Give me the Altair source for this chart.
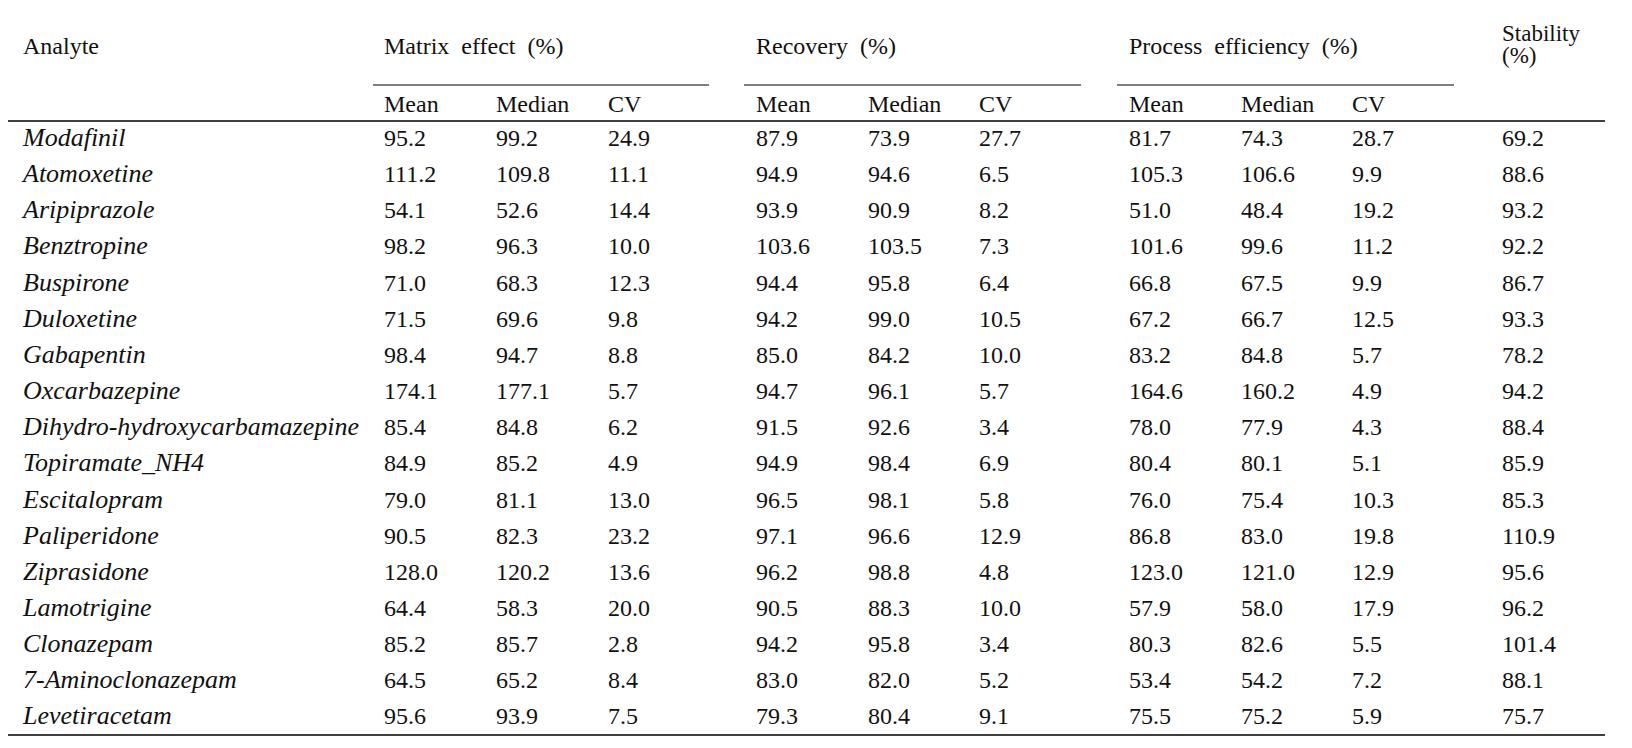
import altair as alt
import pandas as pd

# ---------------- data ----------------
analytes = [
    "Modafinil", "Atomoxetine", "Aripiprazole", "Benztropine", "Buspirone",
    "Duloxetine", "Gabapentin", "Oxcarbazepine", "Dihydro-hydroxycarbamazepine",
    "Topiramate_NH4", "Escitalopram", "Paliperidone", "Ziprasidone",
    "Lamotrigine", "Clonazepam", "7-Aminoclonazepam", "Levetiracetam",
]
me_mean = [95.2, 111.2, 54.1, 98.2, 71.0, 71.5, 98.4, 174.1, 85.4, 84.9, 79.0, 90.5, 128.0, 64.4, 85.2, 64.5, 95.6]
me_median = [99.2, 109.8, 52.6, 96.3, 68.3, 69.6, 94.7, 177.1, 84.8, 85.2, 81.1, 82.3, 120.2, 58.3, 85.7, 65.2, 93.9]
me_cv = [24.9, 11.1, 14.4, 10.0, 12.3, 9.8, 8.8, 5.7, 6.2, 4.9, 13.0, 23.2, 13.6, 20.0, 2.8, 8.4, 7.5]
rec_mean = [87.9, 94.9, 93.9, 103.6, 94.4, 94.2, 85.0, 94.7, 91.5, 94.9, 96.5, 97.1, 96.2, 90.5, 94.2, 83.0, 79.3]
rec_median = [73.9, 94.6, 90.9, 103.5, 95.8, 99.0, 84.2, 96.1, 92.6, 98.4, 98.1, 96.6, 98.8, 88.3, 95.8, 82.0, 80.4]
rec_cv = [27.7, 6.5, 8.2, 7.3, 6.4, 10.5, 10.0, 5.7, 3.4, 6.9, 5.8, 12.9, 4.8, 10.0, 3.4, 5.2, 9.1]
pe_mean = [81.7, 105.3, 51.0, 101.6, 66.8, 67.2, 83.2, 164.6, 78.0, 80.4, 76.0, 86.8, 123.0, 57.9, 80.3, 53.4, 75.5]
pe_median = [74.3, 106.6, 48.4, 99.6, 67.5, 66.7, 84.8, 160.2, 77.9, 80.1, 75.4, 83.0, 121.0, 58.0, 82.6, 54.2, 75.2]
pe_cv = [28.7, 9.9, 19.2, 11.2, 9.9, 12.5, 5.7, 4.9, 4.3, 5.1, 10.3, 19.8, 12.9, 17.9, 5.5, 7.2, 5.9]
stability = [69.2, 88.6, 93.2, 92.2, 86.7, 93.3, 78.2, 94.2, 88.4, 85.9, 85.3, 110.9, 95.6, 96.2, 101.4, 88.1, 75.7]

group_titles = ["Matrix\u2002effect\u2002(%)", "Recovery\u2002(%)", "Process\u2002efficiency\u2002(%)"]
sub_titles = ["Mean", "Median", "CV"]

# ---------------- layout ----------------
W, H = 1610, 730
X0, Y0 = 8, 8
FONT = "'Liberation Serif', 'Times New Roman', 'DejaVu Serif', serif"
name_x = 23
group_x = [[384, 496, 608], [756, 868, 979], [1129, 1241, 1352]]
stab_x = 1502
group_line = [(373, 709), (744, 1081), (1117, 1454)]
row_top, row_step = 146, 36.15
full_line = (8, 1605)
ys_full = [7, 121, 735]
y_group_line = 85
y_head, y_sub = 54, 112

xs = alt.Scale(domain=[X0, X0 + W], nice=False, zero=False)
ys = alt.Scale(domain=[Y0, Y0 + H], nice=False, zero=False, reverse=True)

# body cells
value_cols = [me_mean, me_median, me_cv, rec_mean, rec_median, rec_cv,
              pe_mean, pe_median, pe_cv, stability]
col_x = [x for g in group_x for x in g] + [stab_x]
body = []
names = []
for i, a in enumerate(analytes):
    y = row_top + i * row_step
    names.append({"x": name_x, "y": y, "t": a})
    for cx, vals in zip(col_x, value_cols):
        body.append({"x": cx, "y": y, "t": f"{vals[i]:.1f}"})

head = [{"x": name_x, "y": y_head, "t": "Analyte"}]
for gx, gt in zip(group_x, group_titles):
    head.append({"x": gx[0], "y": y_head, "t": gt})
    for sx, st in zip(gx, sub_titles):
        head.append({"x": sx, "y": y_sub, "t": st})
stab_head = [{"x": stab_x, "y": 41, "t": "Stability"},
             {"x": stab_x, "y": 63, "t": "(%)"}]

thick = pd.DataFrame([{"x": full_line[0], "x2": full_line[1], "y": y} for y in ys_full])
thin = pd.DataFrame([{"x": a, "x2": b, "y": y_group_line} for a, b in group_line])


def txt(df, **kw):
    return alt.Chart(pd.DataFrame(df)).mark_text(
        align="left", baseline="alphabetic", font=FONT, color="#111", **kw
    ).encode(
        x=alt.X("x:Q", scale=xs, axis=None),
        y=alt.Y("y:Q", scale=ys, axis=None),
        text="t:N",
    )


def rules(df, sw):
    return alt.Chart(df).mark_rule(color="#000", strokeWidth=sw).encode(
        x=alt.X("x:Q", scale=xs, axis=None),
        x2="x2:Q",
        y=alt.Y("y:Q", scale=ys, axis=None),
    )


chart = alt.layer(
    rules(thick, 1.6),
    rules(thin, 1.2),
    txt(head, fontSize=24),
    txt(stab_head, fontSize=23),
    txt(names, fontSize=26, fontStyle="italic"),
    txt(body, fontSize=24),
).properties(
    width=W, height=H, padding=0,
    autosize=alt.AutoSizeParams(type="none"),
    background="white",
).configure_view(stroke=None)

chart.save("out.html", embed_options={"renderer": "svg", "actions": False})
